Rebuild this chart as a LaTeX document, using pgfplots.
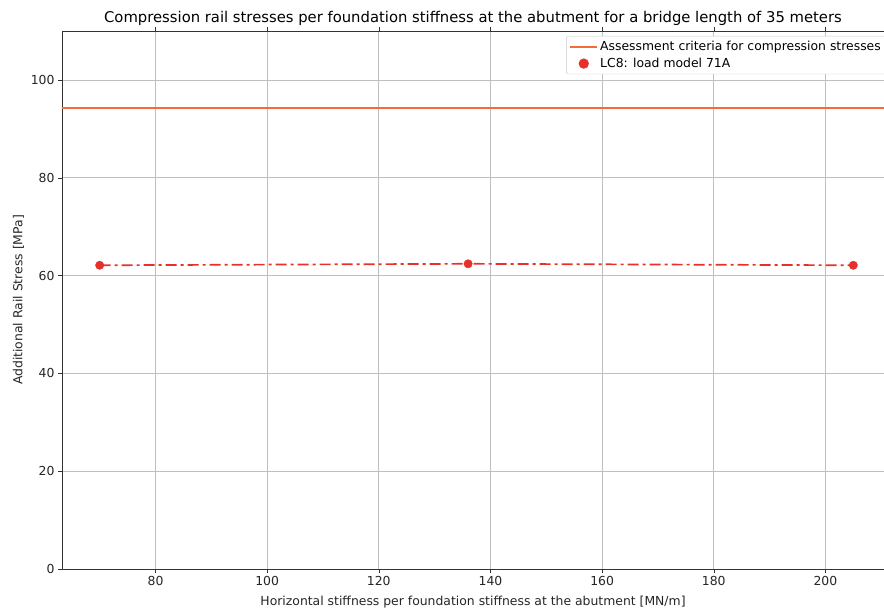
\documentclass[border=0pt]{standalone}
\usepackage{fontspec}
\setmainfont{DejaVu Sans}
\usepackage{pgfplots}
\pgfplotsset{compat=1.18}
\definecolor{critc}{HTML}{F26B38}
\definecolor{lcred}{HTML}{E8302A}
\begin{document}
\begin{tikzpicture}
\begin{axis}[
  scale only axis,
  width=822pt, height=538pt,
  xmin=63.25, xmax=210.5,
  ymin=0, ymax=110,
  xtick={80,100,...,200},
  ytick={0,20,...,100},
  grid=major,
  grid style={color=black!25, line width=0.8pt},
  axis line style={black!80, line width=0.8pt},
  tick style={black!80},
  tick align=outside,
  major tick length=4pt,
  every tick label/.append style={font=\fontsize{12.4}{14}\selectfont, text=black!85},
  /pgf/number format/assume math mode=true,
  title={Compression rail stresses per foundation stiffness at the abutment for a bridge length of 35 meters},
  title style={font=\fontsize{14.8}{17}\selectfont, yshift=-4pt},
  xlabel={Horizontal stiffness per foundation stiffness at the abutment [MN/m]},
  ylabel={Additional Rail Stress [MPa]},
  label style={font=\fontsize{12.4}{14}\selectfont, text=black!85},
  xlabel style={yshift=-3pt},
  ylabel style={yshift=0pt},
  legend style={at={(1,1)}, anchor=north east, xshift=2pt, yshift=-5pt,
    font=\fontsize{12.4}{14}\selectfont, draw=black!20, rounded corners=2pt,
    row sep=2pt, inner sep=3pt},
  legend cell align=left,
  legend image code/.code={\draw[mark repeat=2,mark phase=2,#1] plot coordinates {(0cm,0cm) (0.475cm,0cm) (0.95cm,0cm)};},
  legend image post style={line width=1.8pt},
]
\addplot[critc, line width=1.8pt, forget plot] coordinates {(60,94.3) (215,94.3)};
\addplot[lcred, line width=1.7pt, dash pattern=on 11pt off 4pt on 3pt off 4pt, forget plot]
  coordinates {(70,62.1) (136,62.4) (205,62.1)};
\addlegendimage{critc, line width=1.8pt}
\addlegendentry{Assessment criteria for compression stresses}
\addplot[only marks, mark=*, mark size=4.2pt, color=lcred]
  coordinates {(70,62.1) (136,62.4) (205,62.1)};
\addlegendentry{LC8: load model 71A}
\end{axis}
\pgfresetboundingbox
\path (current axis.south west) ++(-62pt,-44pt) coordinate (bl);
\path (current axis.north east) ++(0pt,31pt) coordinate (tr);
\path[use as bounding box] (bl) rectangle (tr);
\end{tikzpicture}
\end{document}
